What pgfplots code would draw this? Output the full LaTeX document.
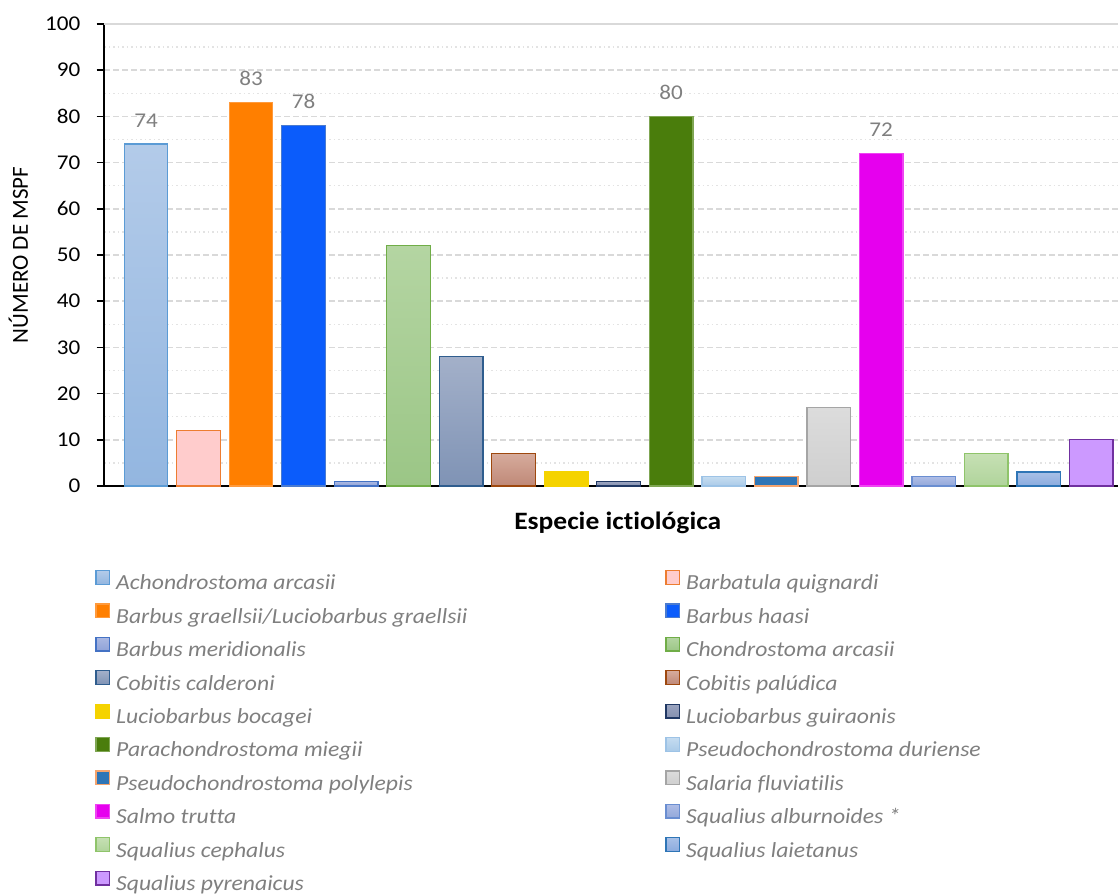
\documentclass[border=0pt]{standalone}
\usepackage{pgfplots}
\pgfplotsset{compat=1.18}
\usepackage{fontspec}
\setmainfont{Carlito}[Ligatures=NoCommon, FakeStretch=1.1]
\newfontfamily\ylfont{Carlito}[Ligatures=NoCommon]
\definecolor{labgray}{HTML}{7F7F7F}
\definecolor{gridc}{HTML}{D9D9D9}
\definecolor{gridm}{HTML}{E3E3E3}
\definecolor{aT}{HTML}{B3CBE9}\definecolor{aB}{HTML}{93B6E0}\definecolor{aD}{HTML}{5B9BD5}
\definecolor{bF}{HTML}{FFCCCC}\definecolor{bD}{HTML}{ED7D31}
\definecolor{cF}{HTML}{FF7F00}\definecolor{cD}{HTML}{FF9A3C}
\definecolor{dF}{HTML}{0B5CFB}\definecolor{dD}{HTML}{4A7BD0}
\definecolor{eT}{HTML}{AAB8E2}\definecolor{eB}{HTML}{8FA2D8}\definecolor{eD}{HTML}{4472C4}
\definecolor{fT}{HTML}{B4D5A2}\definecolor{fB}{HTML}{9BC686}\definecolor{fD}{HTML}{70AD47}
\definecolor{gT}{HTML}{A3B0C9}\definecolor{gB}{HTML}{7F93B5}\definecolor{gD}{HTML}{2F5D8E}
\definecolor{hT}{HTML}{D6AB9C}\definecolor{hB}{HTML}{BF8877}\definecolor{hD}{HTML}{9E480E}
\definecolor{iF}{HTML}{F5D300}
\definecolor{jT}{HTML}{9AA4BF}\definecolor{jB}{HTML}{8590B0}\definecolor{jD}{HTML}{203864}
\definecolor{kF}{HTML}{4A7D0C}\definecolor{kD}{HTML}{7FA653}
\definecolor{lT}{HTML}{C5DCF0}\definecolor{lB}{HTML}{AACAE8}\definecolor{lD}{HTML}{9DC3E6}
\definecolor{mF}{HTML}{2E75B6}\definecolor{mD}{HTML}{F4A46E}
\definecolor{nT}{HTML}{DCDCDC}\definecolor{nB}{HTML}{CFCFCF}\definecolor{nD}{HTML}{A5A5A5}
\definecolor{oF}{HTML}{E600EE}\definecolor{oD}{HTML}{EE44F2}
\definecolor{pT}{HTML}{AEBDE6}\definecolor{pB}{HTML}{93A8DA}\definecolor{pD}{HTML}{6A8ED1}
\definecolor{qT}{HTML}{C6E0B4}\definecolor{qB}{HTML}{B0D49B}\definecolor{qD}{HTML}{8FC46A}
\definecolor{rT}{HTML}{A8C0E7}\definecolor{rB}{HTML}{8BABDE}\definecolor{rD}{HTML}{2E75B6}
\definecolor{sF}{HTML}{CC99FF}\definecolor{sD}{HTML}{7030A0}
\pgfplotsset{
  mybar/.style={ybar, bar shift=0pt, bar width=0.83, line width=1.3pt,
    legend image code/.code={\draw[##1, line width=1.3pt] (0.65pt,0.65pt) rectangle (14.35pt,14.35pt);}},
  lab/.style={nodes near coords, every node near coord/.append style={anchor=base, yshift=17pt, font=\fontsize{21}{25}\selectfont, color=labgray, inner sep=0pt}},
}
\newcommand{\LL}[1]{\makebox[543pt][l]{#1}}
\begin{document}
\begin{tikzpicture}
\useasboundingbox (0,0) rectangle (1118pt,894pt);
\begin{axis}[
  at={(104pt,408pt)}, anchor=south west,
  scale only axis, width=1014pt, height=462pt,
  xmin=-0.8, xmax=18.51, ymin=0, ymax=100,
  axis x line=bottom, axis y line=left,
  axis line style={-, black, line width=1.5pt},
  xtick=\empty,
  ytick={0,10,...,100},
  minor y tick num=1,
  tick align=outside, major tick length=7.5pt, minor tick length=0pt,
  ytick style={black, line width=1.5pt},
  ymajorgrids, yminorgrids,
  major grid style={gridc, line width=1.5pt, dash pattern=on 6pt off 3pt},
  minor grid style={gridm, line width=1.3pt, dash pattern=on 1.5pt off 3pt},
  extra y ticks={100}, extra y tick labels={},
  extra y tick style={grid=major, major grid style={gridc, solid, line width=1.5pt}, ytick style={draw=none}},
  /pgf/number format/assume math mode=true,
  yticklabel style={font=\fontsize{21}{25}\selectfont, inner sep=0pt, xshift=-16pt},
  ylabel={NÚMERO DE MSPF},
  every axis y label/.style={at={(axis description cs:-0.075,0.5)}, anchor=base, rotate=90, font=\ylfont\fontsize{23}{27}\selectfont},
  xlabel={Especie ictiológica},
  every axis x label/.style={at={(axis description cs:0.5066,-0.0952)}, anchor=base, font=\fontsize{25}{30}\selectfont\bfseries},
  clip=false,
  legend columns=2,
  legend cell align=left,
  legend style={at={(axis description cs:0,0)}, anchor=north west, xshift=-9pt, yshift=-83.7pt,
    draw=none, fill=none, inner sep=0pt, column sep=6pt, row sep=7.4pt,
    font=\fontsize{21.5}{26}\selectfont\itshape, text=labgray,
    nodes={inner sep=0pt, text height=16pt, text depth=6pt}},
]
\addplot[mybar, lab, top color=aT, bottom color=aB, draw=aD] coordinates {(0,74)};
\addlegendentry{\LL{Achondrostoma arcasii}}
\addplot[mybar, fill=bF, draw=bD] coordinates {(1,12)};
\addlegendentry{Barbatula quignardi}
\addplot[mybar, lab, fill=cF, draw=cD] coordinates {(2,83)};
\addlegendentry{\LL{Barbus graellsii/Luciobarbus graellsii}}
\addplot[mybar, lab, fill=dF, draw=dD] coordinates {(3,78)};
\addlegendentry{Barbus haasi}
\addplot[mybar, top color=eT, bottom color=eB, draw=eD] coordinates {(4,1)};
\addlegendentry{\LL{Barbus meridionalis}}
\addplot[mybar, top color=fT, bottom color=fB, draw=fD] coordinates {(5,52)};
\addlegendentry{Chondrostoma arcasii}
\addplot[mybar, top color=gT, bottom color=gB, draw=gD] coordinates {(6,28)};
\addlegendentry{\LL{Cobitis calderoni}}
\addplot[mybar, top color=hT, bottom color=hB, draw=hD] coordinates {(7,7)};
\addlegendentry{Cobitis palúdica}
\addplot[mybar, fill=iF, draw=iF] coordinates {(8,3)};
\addlegendentry{\LL{Luciobarbus bocagei}}
\addplot[mybar, top color=jT, bottom color=jB, draw=jD] coordinates {(9,1)};
\addlegendentry{Luciobarbus guiraonis}
\addplot[mybar, lab, fill=kF, draw=kD] coordinates {(10,80)};
\addlegendentry{\LL{Parachondrostoma miegii}}
\addplot[mybar, top color=lT, bottom color=lB, draw=lD] coordinates {(11,2)};
\addlegendentry{Pseudochondrostoma duriense}
\addplot[mybar, fill=mF, draw=mD] coordinates {(12,2)};
\addlegendentry{\LL{Pseudochondrostoma polylepis}}
\addplot[mybar, top color=nT, bottom color=nB, draw=nD] coordinates {(13,17)};
\addlegendentry{Salaria fluviatilis}
\addplot[mybar, lab, fill=oF, draw=oD] coordinates {(14,72)};
\addlegendentry{\LL{Salmo trutta}}
\addplot[mybar, top color=pT, bottom color=pB, draw=pD] coordinates {(15,2)};
\addlegendentry{Squalius alburnoides *}
\addplot[mybar, top color=qT, bottom color=qB, draw=qD] coordinates {(16,7)};
\addlegendentry{\LL{Squalius cephalus}}
\addplot[mybar, top color=rT, bottom color=rB, draw=rD] coordinates {(17,3)};
\addlegendentry{Squalius laietanus}
\addplot[mybar, fill=sF, draw=sD] coordinates {(18,10)};
\addlegendentry{\LL{Squalius pyrenaicus}}
\end{axis}
\end{tikzpicture}
\end{document}
